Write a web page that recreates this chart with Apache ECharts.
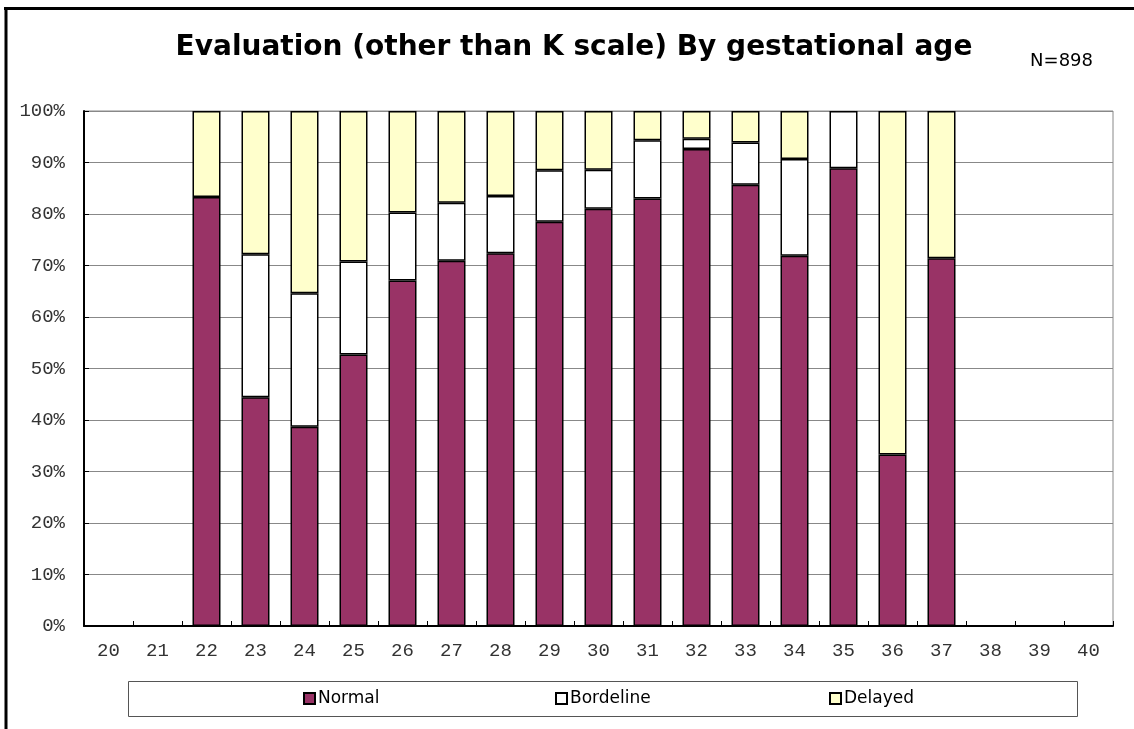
<!DOCTYPE html>
<html>
<head>
<meta charset="utf-8">
<script src="https://cdn.jsdelivr.net/npm/echarts@6/dist/echarts.min.js"></script>
<style>
  html, body { margin: 0; padding: 0; background: #fff; }
  #chart { width: 1134px; height: 729px; }
</style>
</head>
<body>
<div id="chart"></div>
<script>
// Gestational age categories (weeks)
const categories = ['20','21','22','23','24','25','26','27','28','29','30','31','32','33','34','35','36','37','38','39','40'];
// Percent of children in each evaluation group (null = no data)
const normal    = [null, null, 83.3, 44.4, 38.7, 52.7, 67.1, 70.9, 72.4, 78.5, 81.0, 83.0, 92.6, 85.7, 71.9, 88.9, 33.3, 71.4, null, null, null];
const bordeline = [null, null, null, 27.8, 25.9, 18.1, 13.2, 11.3, 11.1, 10.0,  7.6, 11.3,  2.0,  8.2, 18.8, 11.1, null, null, null, null, null];
const delayed   = [null, null, 16.7, 27.8, 35.4, 29.2, 19.7, 17.8, 16.5, 11.5, 11.4,  5.7,  5.4,  6.1,  9.3, null, 66.7, 28.6, null, null, null];
const seriesNames = ['Normal', 'Bordeline', 'Delayed'];
const titleText = 'Evaluation (other than K scale) By gestational age';
const noteText = 'N=898';

const colors = ['#993366', '#FFFFFF', '#FFFFCC'];
const values = [normal, bordeline, delayed];

const chart = echarts.init(document.getElementById('chart'), null, { renderer: 'canvas' });

const series = seriesNames.map((name, i) => ({
  name: name,
  type: 'bar',
  stack: 'total',
  barWidth: 28,
  data: values[i],
  itemStyle: { color: colors[i], borderColor: '#000', borderWidth: 1.5 },
  emphasis: { disabled: true }
}));

const legendX = [303, 555, 829];
const legends = seriesNames.map((name, i) => ({
  data: [name],
  left: legendX[i],
  top: 690,
  icon: 'rect',
  itemWidth: 11,
  itemHeight: 11,
  itemGap: 0,
  padding: 0,
  textStyle: { fontFamily: 'DejaVu Sans', fontSize: 17, color: '#000', padding: [0, 0, 0, -2] },
  selectedMode: false
}));

chart.setOption({
  animation: false,
  backgroundColor: '#fff',
  grid: {
    left: 84, right: 21, top: 111, bottom: 103,
    show: true, borderColor: '#888', borderWidth: 1
  },
  legend: legends,
  xAxis: {
    type: 'category',
    data: categories,
    boundaryGap: true,
    axisLine: { show: true, lineStyle: { color: '#000', width: 2 } },
    axisTick: { show: true, inside: true, length: 5, alignWithLabel: false, lineStyle: { color: '#000', width: 1 } },
    axisLabel: { fontFamily: 'Liberation Mono', fontSize: 19, color: '#333', margin: 15 },
    splitLine: { show: false }
  },
  yAxis: {
    type: 'value',
    min: 0, max: 100, interval: 10,
    axisLine: { show: true, lineStyle: { color: '#000', width: 2 } },
    axisTick: { show: true, inside: true, length: 5, lineStyle: { color: '#000', width: 1 } },
    axisLabel: { formatter: '{value}%', fontFamily: 'Liberation Mono', fontSize: 19, color: '#333', margin: 19 },
    splitLine: { show: true, lineStyle: { color: '#888', width: 1 } }
  },
  series: series,
  graphic: [
    { type: 'rect', silent: true, shape: { x: 128.5, y: 681.5, width: 949, height: 35 },
      style: { fill: 'none', stroke: '#555', lineWidth: 1 }, z: -1 },
    { type: 'line', silent: true, shape: { x1: 4, y1: 8.5, x2: 1134, y2: 8.5 }, style: { stroke: '#000', lineWidth: 3 } },
    { type: 'line', silent: true, shape: { x1: 6, y1: 7, x2: 6, y2: 729 }, style: { stroke: '#000', lineWidth: 3 } },
    { type: 'text', silent: true, style: { x: 574, y: 48, text: titleText, textAlign: 'center', textVerticalAlign: 'middle',
      fontFamily: 'DejaVu Sans', fontWeight: 'bold', fontSize: 28, fill: '#000' } },
    { type: 'text', silent: true, style: { x: 1093, y: 61, text: noteText, textAlign: 'right', textVerticalAlign: 'middle',
      fontFamily: 'DejaVu Sans', fontSize: 18, fill: '#000' } }
  ]
});
</script>
</body>
</html>
